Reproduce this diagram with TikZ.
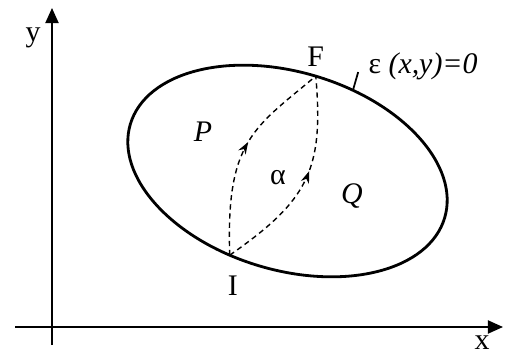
\documentclass[tikz,border=0pt]{standalone}
\usepackage{fontspec}
\setmainfont{Liberation Serif}
\usetikzlibrary{positioning,arrows.meta,calc,decorations.markings}
\tikzset{
  axisline/.style={-{Triangle[length=0.3cm, width=0.26cm]}, line width=1.1pt},
  rim/.style={line width=1.6pt},
  route/.style={dash pattern=on 3pt off 2.2pt, line width=0.8pt,
                decoration={markings,
                  mark=at position 0.55 with {\arrow{Stealth[length=0.24cm, width=0.17cm]}}},
                postaction={decorate}},
  lbl/.style={font=\fontsize{17}{20}\selectfont, inner sep=0pt},
}

\begin{document}
\begin{tikzpicture}
  \useasboundingbox (0,0) rectangle (10.12,7.12);

  %% axes
  \coordinate (ybot) at (1.04,0.22);
  \coordinate (ytop) at (1.04,6.96);
  \coordinate (xleft) at (0.30,0.58);
  \coordinate (xright) at (10.06,0.58);
  \draw[axisline] (ybot) -- (ytop);
  \draw[axisline] (xleft) -- (xright);
  \node[lbl] (ylab) at (0.66,6.36) {y};
  \node[lbl, anchor=base] (xlab) at (9.64,0.14) {x};

  %% boundary curve and the two end points
  \coordinate (C) at (5.75,3.70);
  \begin{scope}[shift={(C)}, rotate=-16.6]
    \draw[rim] (0,0) ellipse (3.28 and 1.98);
    \coordinate (F) at (90:3.28 and 1.98);
    \coordinate (I) at (259:3.28 and 1.98);
    \coordinate (T) at (76:3.28 and 1.98);
  \end{scope}

  %% two paths from I to F
  \draw[route] (I) .. controls +(92:2.3) and +(220:1.6) .. (F);
  \draw[route] (I) .. controls +(35:1.9) and +(-85:1.9) .. (F);

  \node[lbl, above=0.19cm of F] (Flab) {F};
  \node[lbl, below=0.40cm of I, xshift=0.06cm] (Ilab) {I};

  %% label of the boundary
  \coordinate (e) at ($(T)+(74:0.38)$);
  \draw[line width=1pt] (T) -- (e);
  \node[lbl, anchor=base west] (eq) at ($(e)+(0.2,-0.02)$) {ε \textit{(x,y)=0}};

  %% regions
  \node[lbl] (P) at (4.06,4.48) {\textit{P}};
  \node[lbl] (al) at (5.56,3.56) {α};
  \node[lbl] (Q) at (7.04,3.20) {\textit{Q}};
\end{tikzpicture}
\end{document}
